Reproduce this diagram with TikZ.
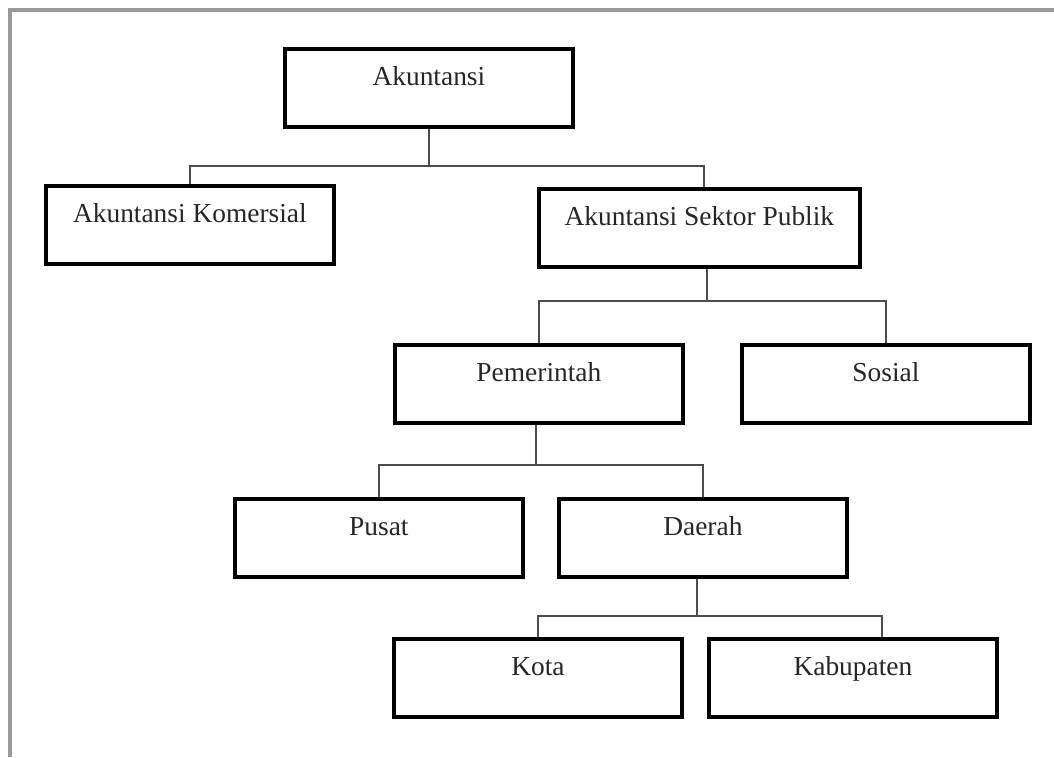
\documentclass[tikz,border=0pt]{standalone}
\usepackage{fontspec}
\setmainfont{Liberation Serif}
\usepackage{xcolor}
\usepackage{tikz}
\usetikzlibrary{calc}

\tikzset{
	kotak/.style={draw=black,line width=2.2pt,anchor=north west,inner sep=0pt,
		minimum width=5.76cm,text height=21pt,text depth=23.4pt,text=black!85,
		font=\fontsize{15.6}{18}\selectfont},
	garis/.style={draw=black!70,line width=0.8pt}
}

\begin{document}
\begin{tikzpicture}[x=0.02cm,y=-0.02cm]
				\useasboundingbox (0,0) rectangle (1054,757);
				\fill[white] (0,0) rectangle (1054,757);
				\draw[black!40,line width=2pt] (1054,10) -- (10,10) -- (10,757);
				% kotak-kotak
				\node[kotak] (akt) at (283,47) {Akuntansi};
				\node[kotak] (kom) at (44,184) {Akuntansi Komersial};
				\node[kotak,minimum width=6.42cm] (asp) at (537,187) {Akuntansi Sektor Publik};
				\node[kotak] (pem) at (393,343) {Pemerintah};
				\node[kotak] (sos) at (740,343) {Sosial};
				\node[kotak] (pus) at (233,497) {Pusat};
				\node[kotak] (dae) at (557,497) {Daerah};
				\node[kotak] (kot) at (392,637) {Kota};
				\node[kotak] (kab) at (707,637) {Kabupaten};
				% garis penghubung
				\draw[garis] (akt.south) -- ++(0,37) coordinate (b1);
				\draw[garis] (kom.north) |- (b1) -| ($(asp.north west)!.514!(asp.north east)$);
				\draw[garis] ($(asp.south west)!.523!(asp.south east)$) -- ++(0,32) coordinate (b2);
				\draw[garis] (pem.north) |- (b2) -| (sos.north);
				\draw[garis] ($(pem.south west)!.49!(pem.south east)$) -- ++(0,40) coordinate (b3);
				\draw[garis] (pus.north) |- (b3) -| (dae.north);
				\draw[garis] ($(dae.south west)!.48!(dae.south east)$) -- ++(0,37) coordinate (b4);
				\draw[garis] (kot.north) |- (b4) -| ($(kab.north west)!.6!(kab.north east)$);
\end{tikzpicture}
\end{document}
